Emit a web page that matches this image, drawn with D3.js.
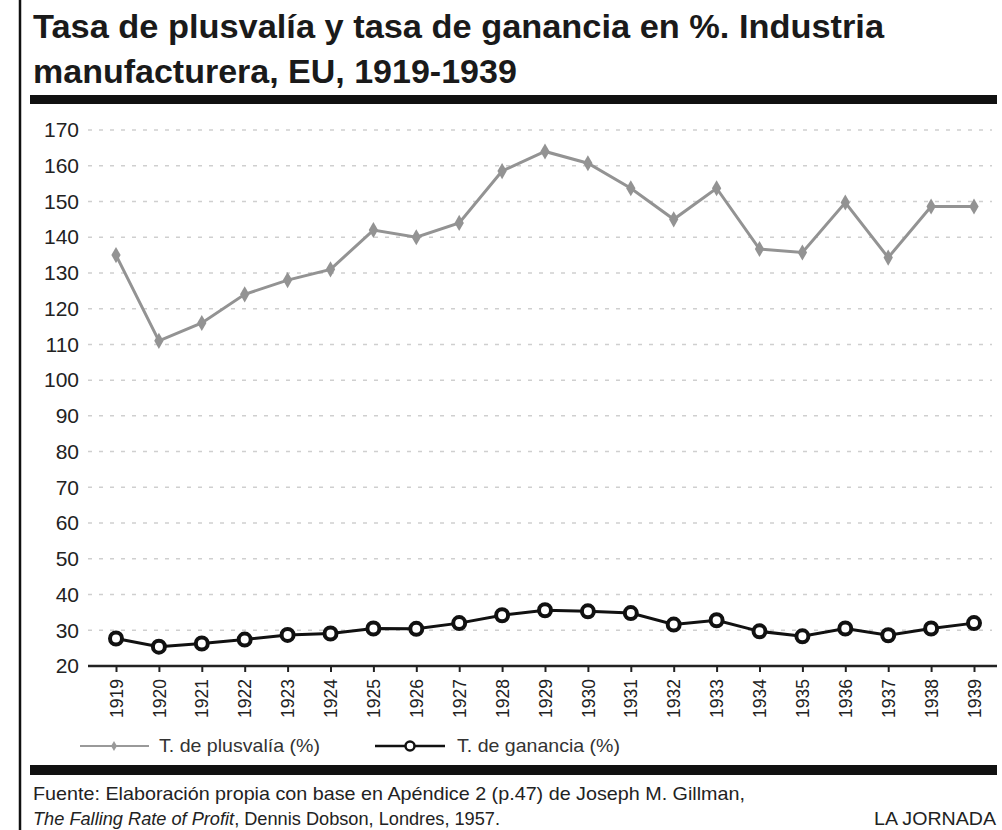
<!DOCTYPE html>
<html>
<head>
<meta charset="utf-8">
<script src="https://cdn.jsdelivr.net/npm/d3@7"></script>
<style>
  body { margin: 0; background: #fff; }
  svg { display: block; font-family: "Liberation Sans", Arial, sans-serif; }
</style>
</head>
<body>
<svg width="1002" height="830"></svg>
<script>
const years = d3.range(1919, 1940).map(String);
const plusvalia = [135, 111, 116, 124, 128, 131, 142, 140, 144, 158.5, 164, 160.7, 153.7, 145, 153.7, 136.7, 135.7, 149.7, 134.3, 148.6, 148.6];
const ganancia = [27.7, 25.4, 26.3, 27.4, 28.7, 29.1, 30.5, 30.4, 32, 34.2, 35.6, 35.3, 34.8, 31.6, 32.8, 29.7, 28.3, 30.5, 28.6, 30.5, 32];
const yTicks = d3.range(20, 171, 10);

const svg = d3.select("svg");

// left rule
svg.append("line")
  .attr("x1", 20).attr("x2", 20).attr("y1", 0).attr("y2", 830)
  .attr("stroke", "#111").attr("stroke-width", 2.5);

// title
const title = svg.append("text")
  .attr("x", 33).attr("y", 38)
  .attr("font-size", 34).attr("font-weight", "bold").attr("fill", "#1a1a1a");
title.append("tspan").attr("x", 33)
  .attr("textLength", 851).attr("lengthAdjust", "spacingAndGlyphs")
  .text("Tasa de plusvalía y tasa de ganancia en %. Industria");
title.append("tspan").attr("x", 33).attr("dy", 45).text("manufacturera, EU, 1919-1939");

// thick bars
svg.append("rect").attr("x", 30).attr("y", 95).attr("width", 967).attr("height", 9).attr("fill", "#111");
svg.append("rect").attr("x", 30).attr("y", 765).attr("width", 967).attr("height", 10).attr("fill", "#111");

// scales
let x = d3.scalePoint().domain(years).range([116, 974]);
let y = d3.scaleLinear().domain([20, 170]).range([666, 130]);

// grid
svg.append("g")
  .selectAll("line")
  .data(yTicks.filter(d => d > 20))
  .enter()
  .append("line")
  .attr("x1", 88).attr("x2", 992)
  .attr("y1", d => y(d)).attr("y2", d => y(d))
  .attr("stroke", "#cfcfcf").attr("stroke-width", 1.5)
  .attr("stroke-dasharray", "4,7");

// y axis labels
svg.append("g")
  .attr("transform", "translate(79,0)")
  .call(d3.axisLeft(y).tickValues(yTicks).tickSize(0).tickPadding(0))
  .call(g => g.select(".domain").remove())
  .selectAll("text")
  .attr("font-size", 21).attr("fill", "#222")
  .attr("font-family", "Liberation Sans, Arial, sans-serif");

// x axis
const xAxis = svg.append("g")
  .attr("transform", "translate(0,666)")
  .call(d3.axisBottom(x).tickSize(6).tickPadding(6));
xAxis.select(".domain").attr("d", "M88,0H997").attr("stroke", "#222").attr("stroke-width", 2.5);
xAxis.selectAll(".tick line").attr("stroke", "#222").attr("stroke-width", 2);
xAxis.selectAll("text")
  .attr("font-size", 17.5).attr("fill", "#222")
  .attr("font-family", "Liberation Sans, Arial, sans-serif")
  .attr("transform", "rotate(-90)")
  .attr("text-anchor", "end")
  .attr("x", -13).attr("y", 0).attr("dy", "0.35em");

// plusvalía line
const linePlus = d3.line().x((d, i) => x(years[i])).y(d => y(d));
svg.append("path")
  .datum(plusvalia)
  .attr("d", linePlus)
  .attr("fill", "none").attr("stroke", "#939393").attr("stroke-width", 3);
svg.append("g")
  .selectAll("path")
  .data(plusvalia)
  .enter()
  .append("path")
  .attr("d", d3.symbol(d3.symbolDiamond, 75))
  .attr("transform", (d, i) => "translate(" + x(years[i]) + "," + y(d) + ")")
  .attr("fill", "#939393");

// ganancia line
svg.append("path")
  .datum(ganancia)
  .attr("d", linePlus)
  .attr("fill", "none").attr("stroke", "#111").attr("stroke-width", 3);
svg.append("g")
  .selectAll("circle")
  .data(ganancia)
  .enter()
  .append("circle")
  .attr("cx", (d, i) => x(years[i])).attr("cy", d => y(d))
  .attr("r", 6)
  .attr("fill", "#fff").attr("stroke", "#111").attr("stroke-width", 4);

// legend
const legY = 746;
svg.append("line").attr("x1", 80).attr("x2", 149).attr("y1", legY).attr("y2", legY)
  .attr("stroke", "#999").attr("stroke-width", 2);
svg.append("path").attr("d", d3.symbol(d3.symbolDiamond, 30))
  .attr("transform", "translate(114," + legY + ")").attr("fill", "#999");
svg.append("text").attr("x", 159).attr("y", legY + 6)
  .attr("font-size", 18.5).attr("fill", "#333")
  .attr("textLength", 161).attr("lengthAdjust", "spacingAndGlyphs")
  .text("T. de plusvalía (%)");

svg.append("line").attr("x1", 375).attr("x2", 445).attr("y1", legY).attr("y2", legY)
  .attr("stroke", "#111").attr("stroke-width", 2.5);
svg.append("circle").attr("cx", 410).attr("cy", legY).attr("r", 4.5)
  .attr("fill", "#fff").attr("stroke", "#111").attr("stroke-width", 2.5);
svg.append("text").attr("x", 457).attr("y", legY + 6)
  .attr("font-size", 18.5).attr("fill", "#333")
  .attr("textLength", 163).attr("lengthAdjust", "spacingAndGlyphs")
  .text("T. de ganancia (%)");

// footer
svg.append("text").attr("x", 33).attr("y", 800)
  .attr("font-size", 18.5).attr("fill", "#222")
  .attr("textLength", 712).attr("lengthAdjust", "spacingAndGlyphs")
  .text("Fuente: Elaboración propia con base en Apéndice 2 (p.47) de Joseph M. Gillman,");
const src = svg.append("text").attr("x", 33).attr("y", 825)
  .attr("font-size", 18.5).attr("fill", "#222")
  .attr("textLength", 467).attr("lengthAdjust", "spacingAndGlyphs");
src.append("tspan").attr("font-style", "italic").text("The Falling Rate of Profit");
src.append("tspan").text(", Dennis Dobson, Londres, 1957.");
svg.append("text").attr("x", 996).attr("y", 825)
  .attr("text-anchor", "end")
  .attr("font-size", 18.5).attr("fill", "#222")
  .attr("textLength", 122).attr("lengthAdjust", "spacingAndGlyphs")
  .text("LA JORNADA");
</script>
</body>
</html>
